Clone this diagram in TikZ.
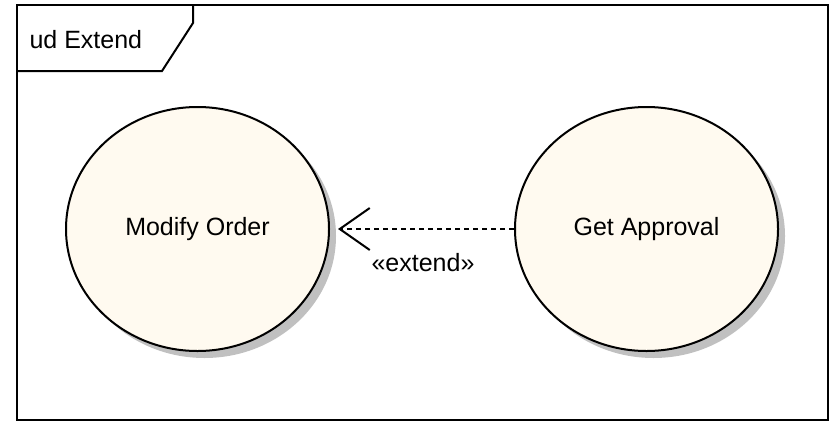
\documentclass[tikz,border=0pt]{standalone}
\usepackage{fontspec}
\setmainfont{Liberation Sans}
\usetikzlibrary{shapes.geometric,arrows.meta}
\definecolor{usecasefill}{RGB}{255,250,240}
\definecolor{shadowgray}{RGB}{192,192,192}
\begin{document}
\begin{tikzpicture}[x=1pt,y=-1pt,
	every node/.style={font=\fontsize{25}{30}\selectfont},
	usecase/.style={ellipse,draw=black,line width=2pt,fill=usecasefill,
		minimum width=263pt,minimum height=244pt,inner sep=0pt},
	shade/.style={fill=shadowgray},
	dep/.style={line width=2pt,dash pattern=on 5pt off 4pt,
		-{Straight Barb[length=30pt,width=42pt,line width=2pt]}}]
	
	\useasboundingbox (0,0) rectangle (832,421);
	
	% frame and tab
	\draw[line width=2pt][black](17,5) rectangle (828,420);
	\draw[line width=2pt][black](17,71)--(162,71)--(193,23)--(193,5);
	\node[anchor=west] (title) at (26,40) {ud Extend};
	
	% shadows
	\fill[shade](204.5,236) ellipse [x radius=131.5,y radius=122];
	\fill[shade](653.5,236) ellipse [x radius=131.5,y radius=122];
	
	\node[usecase] (modify) at (197.5,229) {Modify Order};
	\node[usecase] (approval) at (646.5,229) {Get Approval};
	
	\draw[dep,shorten >=8pt](approval.west)--(modify.east);
	\node (ext) at (423,263) {«extend»};
	\end{tikzpicture}
\end{document}
